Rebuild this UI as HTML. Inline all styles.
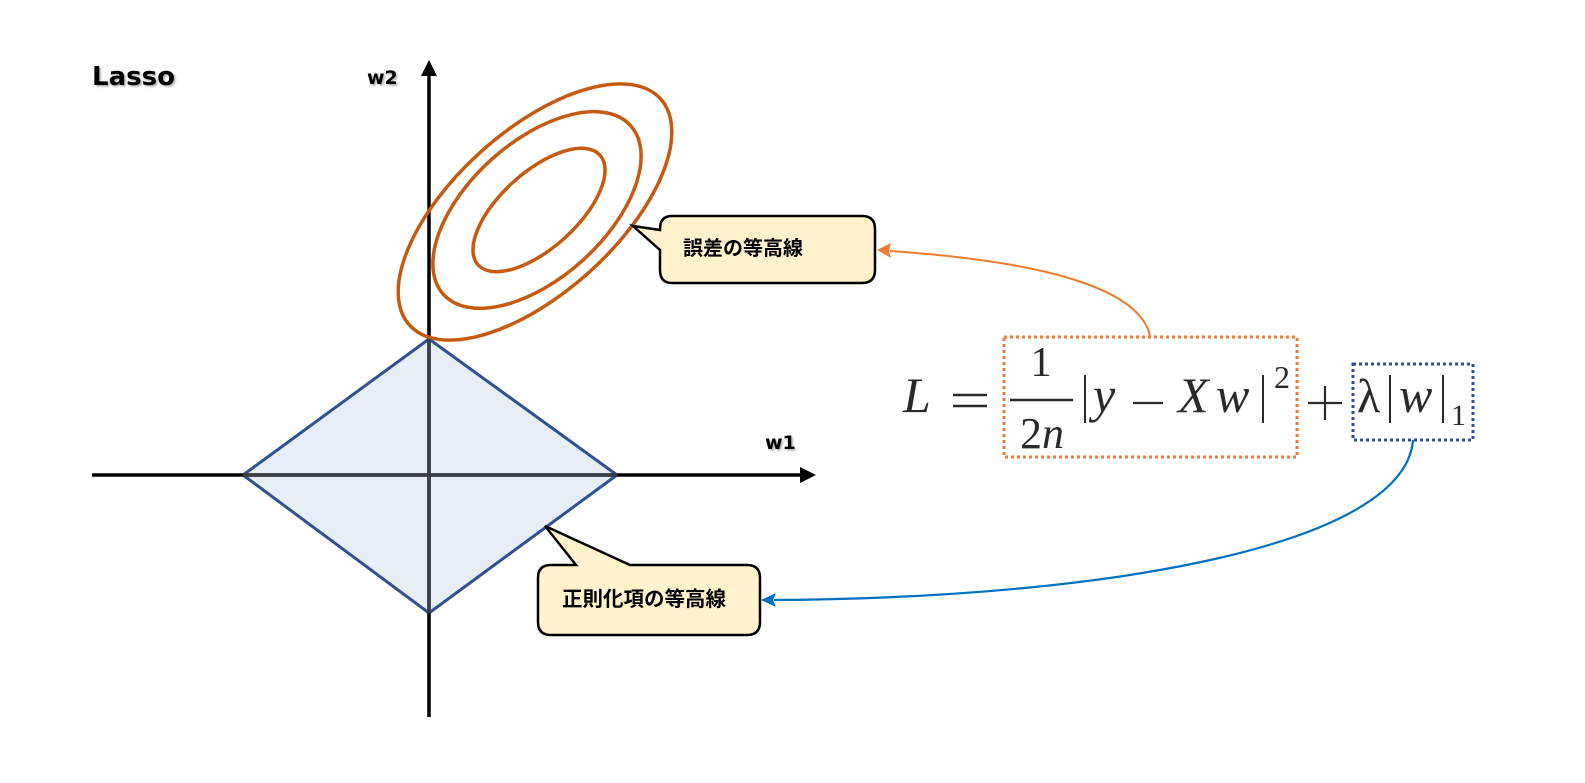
<!DOCTYPE html>
<html><head><meta charset="utf-8"><style>
body{margin:0;background:#fff;}
svg{display:block;}
</style></head><body>
<svg width="1585" height="783" viewBox="0 0 1585 783" xmlns="http://www.w3.org/2000/svg">
<defs>
<filter id="sh" x="-10%" y="-10%" width="130%" height="140%"><feDropShadow dx="1.5" dy="1.5" stdDeviation="1" flood-color="#000" flood-opacity="0.35"/></filter>
</defs>
<g font-family="DejaVu Sans, sans-serif" font-weight="bold" fill="#000" filter="url(#sh)">
<text x="92" y="85" font-size="26">Lasso</text>
<text x="367" y="84" font-size="19">w2</text>
<text x="765" y="449" font-size="19">w1</text>
<text x="396" y="465" font-size="19">O</text>
</g>
<!-- diamond -->
<polygon points="429,339 617,475 429,613 243,475" fill="#e8eef8" stroke="#2f528f" stroke-width="3"/>
<!-- axes -->
<line x1="92" y1="475" x2="804" y2="475" stroke="#000" stroke-width="3.5"/>
<line x1="243" y1="475" x2="617" y2="475" stroke="#3a3f4a" stroke-width="3.5"/>
<polygon points="816,475 800,467 800,483" fill="#000"/>
<line x1="429" y1="717" x2="429" y2="72" stroke="#000" stroke-width="3.5"/>
<line x1="429" y1="339" x2="429" y2="613" stroke="#3a3f4a" stroke-width="3.5"/>
<polygon points="429,60 421,76 437,76" fill="#000"/>
<!-- ellipses -->
<g fill="none" stroke="#c55a11" stroke-width="3.5">
<ellipse cx="535" cy="212" rx="169" ry="81" transform="rotate(-42 535 212)"/>
<ellipse cx="537" cy="210" rx="126" ry="68" transform="rotate(-42 537 210)"/>
<ellipse cx="539" cy="210" rx="82" ry="38" transform="rotate(-42 539 210)"/>
</g>
<!-- callout 1 -->
<path d="M672,216 H862 Q875,216 875,229 V270 Q875,283 862,283 H672 Q660,283 660,270 V250 L633,226 L660,230 V229 Q660,216 672,216 Z" fill="#fff2cc" stroke="#000" stroke-width="2.5"/>
<text x="683" y="255" font-family="Liberation Sans, 'Noto Sans CJK JP', sans-serif" font-weight="bold" font-size="20">誤差の等高線</text>
<!-- callout 2 -->
<path d="M551,565 H576 L545,526 L630,565 H747 Q760,565 760,578 V622 Q760,635 747,635 H551 Q538,635 538,622 V578 Q538,565 551,565 Z" fill="#fff2cc" stroke="#000" stroke-width="2.5"/>
<text x="562" y="606" font-family="Liberation Sans, 'Noto Sans CJK JP', sans-serif" font-weight="bold" font-size="20.5">正則化項の等高線</text>
<!-- curves -->
<path d="M1150,336 C1140,290 1050,262 890,251" fill="none" stroke="#ed7d31" stroke-width="2"/>
<polygon points="877,250 891,243 889,251 891,258" fill="#ed7d31"/>
<path d="M1413,440 C1405,545 1110,598 774,600" fill="none" stroke="#0070c0" stroke-width="2.2"/>
<polygon points="761,600 776,593 773,600 776,607" fill="#0070c0"/>
<!-- formula boxes -->
<rect x="1004" y="337" width="293" height="120" fill="none" stroke="#ed7d31" stroke-width="3" stroke-dasharray="3,3"/>
<rect x="1353" y="364" width="120" height="76" fill="none" stroke="#2f528f" stroke-width="3" stroke-dasharray="3,3"/>
<!-- formula -->
<g font-family="Liberation Serif, serif" fill="#2a2a2a">
<text x="903" y="412" font-size="50" font-style="italic">L</text>
<line x1="953" y1="395" x2="987" y2="395" stroke="#2a2a2a" stroke-width="2.5"/>
<line x1="953" y1="406" x2="987" y2="406" stroke="#2a2a2a" stroke-width="2.5"/>
<text x="1041" y="376" font-size="42" text-anchor="middle">1</text>
<line x1="1010" y1="400" x2="1073" y2="400" stroke="#2a2a2a" stroke-width="2.5"/>
<text x="1042" y="448" font-size="44" text-anchor="middle">2<tspan font-style="italic">n</tspan></text>
<line x1="1085" y1="375" x2="1085" y2="423" stroke="#2a2a2a" stroke-width="2"/>
<text x="1093" y="412" font-size="50" font-style="italic">y</text>
<line x1="1133" y1="403" x2="1163" y2="403" stroke="#2a2a2a" stroke-width="2.2"/>
<text x="1178" y="412" font-size="50" font-style="italic">X</text>
<text x="1216" y="412" font-size="50" font-style="italic">w</text>
<line x1="1263" y1="375" x2="1263" y2="423" stroke="#2a2a2a" stroke-width="2"/>
<text x="1274" y="388" font-size="32">2</text>
<line x1="1308" y1="403" x2="1342" y2="403" stroke="#2a2a2a" stroke-width="2.2"/>
<line x1="1325" y1="386" x2="1325" y2="420" stroke="#2a2a2a" stroke-width="2.2"/>
<text x="1357" y="412" font-size="48">λ</text>
<line x1="1390" y1="375" x2="1390" y2="423" stroke="#2a2a2a" stroke-width="2"/>
<text x="1399" y="412" font-size="50" font-style="italic">w</text>
<line x1="1443" y1="375" x2="1443" y2="423" stroke="#2a2a2a" stroke-width="2"/>
<text x="1451" y="425" font-size="30">1</text>
</g>
</svg>
</body></html>
